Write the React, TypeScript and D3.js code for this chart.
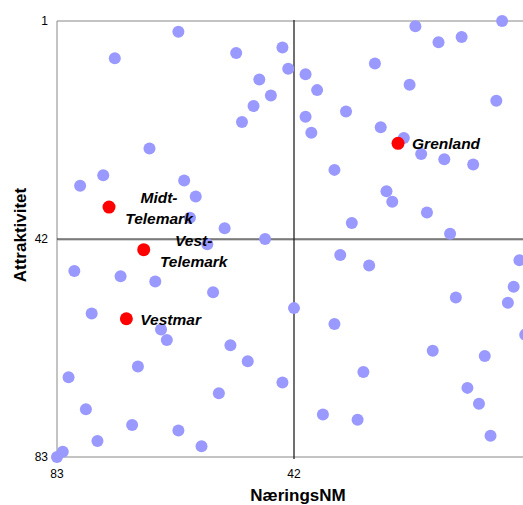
import React from "react";
import * as d3 from "d3";

// Ranks: NæringsNM (x) and Attraktivitet (y)
const blueX = [73,67,62,52,44,43,48,46,49,51,40,38,40,39,33,35,21,6,17,13,28,22,7,27,23,20,16,11,79,75,80,72,66,77,65,64,61,59,60,54,57,47,32,34,56,42,35,26,25,19,15,29,3,4,14,5,2,81,69,78,70,62,76,82,83,53,50,44,55,58,37,31,18,9,30,12,10,8];
const blueY = [8,25,3,7,6,10,12,15,17,20,11,14,19,22,18,29,2,1,5,4,9,13,16,21,23,26,27,28,32,30,48,49,50,56,59,61,31,34,38,40,43,42,39,45,52,55,58,33,35,37,41,47,46,51,53,54,60,68,66,74,77,78,80,82,83,62,65,69,71,81,75,76,63,64,67,70,73,79];

const redNames = ["Grenland", "Midt-Telemark", "Vest-Telemark", "Vestmar"];
const redX = [24, 74, 68, 71];
const redY = [24, 36, 44, 57];

const xTicks = [83, 42];
const yTicks = [1, 42, 83];

const W = 523;
const H = 505;

export default function App() {
  const x = d3.scaleLinear().domain([83, 1]).range([57, 531]);
  const y = d3.scaleLinear().domain([1, 83]).range([21, 457]);
  const font = "Arial, 'Liberation Sans', sans-serif";

  const labelLines = (name: string) => {
    if (name === "Midt-Telemark") return ["Midt-", "Telemark"];
    if (name === "Vest-Telemark") return ["Vest-", "Telemark"];
    return [name];
  };

  return (
    <svg
      width={W}
      height={H}
      style={{ position: "absolute", left: 0, top: 0, background: "#fff" }}
      fontFamily={font}
    >
      {/* frame */}
      <line x1={x(83)} x2={x(83)} y1={y(1)} y2={y(83)} stroke="#888" strokeWidth={1} />
      <line x1={x(83)} x2={x(1)} y1={y(1)} y2={y(1)} stroke="#888" strokeWidth={1} />
      <line x1={x(83)} x2={x(1)} y1={y(83)} y2={y(83)} stroke="#888" strokeWidth={1} />
      <line x1={x(1)} x2={x(1)} y1={y(1)} y2={y(83)} stroke="#888" strokeWidth={1} />
      {/* cross lines */}
      <line x1={x(83)} x2={x(1)} y1={y(42) + 1} y2={y(42) + 1} stroke="#aaa" strokeWidth={1} />
      <line x1={x(83)} x2={x(1)} y1={y(42)} y2={y(42)} stroke="#222" strokeWidth={1.2} />
      <line x1={x(42)} x2={x(42)} y1={y(1) - 1} y2={y(83) + 2} stroke="#222" strokeWidth={1.3} />

      {/* ticks */}
      {yTicks.map((t) => (
        <text key={"y" + t} x={48} y={y(t) + 4} textAnchor="end" fontSize={12} fill="#000">
          {t}
        </text>
      ))}
      {xTicks.map((t) => (
        <text key={"x" + t} x={x(t)} y={478} textAnchor="middle" fontSize={12} fill="#000">
          {t}
        </text>
      ))}

      {/* axis titles */}
      <text x={298} y={501} textAnchor="middle" fontSize={17} fontWeight="bold" fill="#000">
        NæringsNM
      </text>
      <text
        transform={`translate(26,${235}) rotate(-90)`}
        textAnchor="middle"
        fontSize={17}
        fontWeight="bold"
        fill="#000"
      >
        Attraktivitet
      </text>

      {/* blue points */}
      {blueX.map((v, i) => (
        <circle key={"b" + i} cx={x(v)} cy={y(blueY[i])} r={6} fill="#9999FF" />
      ))}

      {/* red points */}
      {redX.map((v, i) => (
        <circle key={"r" + i} cx={x(v)} cy={y(redY[i])} r={6.5} fill="#FF0000" />
      ))}

      {/* labels */}
      {redNames.map((name, i) => {
        const lines = labelLines(name);
        const cx = x(redX[i]);
        const cy = y(redY[i]);
        if (lines.length === 1) {
          return (
            <text
              key={"l" + i}
              x={cx + 14}
              y={cy + 6}
              fontSize={15.5}
              fontWeight="bold"
              fontStyle="italic"
              fill="#000"
            >
              {name}
            </text>
          );
        }
        return (
          <text
            key={"l" + i}
            x={cx + 50}
            y={cy - 4}
            textAnchor="middle"
            fontSize={15.5}
            fontWeight="bold"
            fontStyle="italic"
            fill="#000"
          >
            <tspan x={cx + 50} y={cy - 4}>{lines[0]}</tspan>
            <tspan x={cx + 50} y={cy + 17}>{lines[1]}</tspan>
          </text>
        );
      })}
    </svg>
  );
}
